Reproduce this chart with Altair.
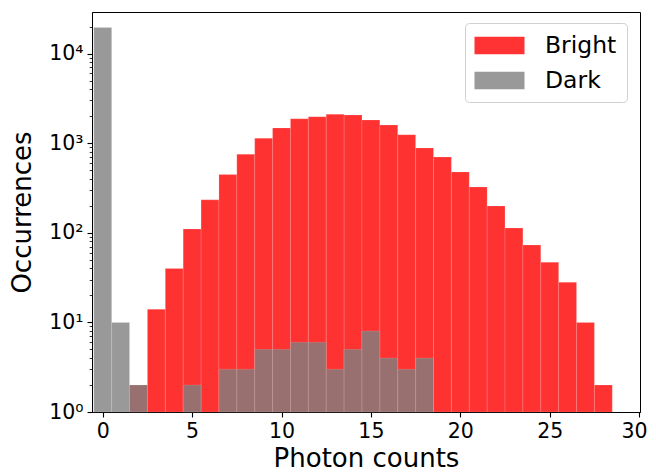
import altair as alt
import pandas as pd

# histogram bins (photon counts) and occurrences
bright_bins = [2, 3, 4, 5, 6, 7, 8, 9, 10, 11, 12, 13, 14, 15, 16, 17, 18, 19, 20,
               21, 22, 23, 24, 25, 26, 27, 28]
bright_counts = [2, 14, 40, 110, 233, 446, 752, 1135, 1478, 1876, 1976, 2100, 2062,
                 1815, 1596, 1244, 885, 701, 478, 325, 199, 113, 73, 47, 28, 10, 2]

dark_bins = [0, 1, 2, 5, 7, 8, 9, 10, 11, 12, 13, 14, 15, 16, 17, 18]
dark_counts = [19600, 10, 2, 2, 3, 3, 5, 5, 6, 6, 3, 5, 8, 4, 3, 4]

series_names = ["Bright", "Dark"]
series_colors = ["red", "gray"]

x_ticks = [0, 5, 10, 15, 20, 25, 30]
y_major = [1, 10, 100, 1000, 10000]
y_ticks = sorted(set(m * d for d in y_major for m in range(1, 10) if m * d <= 29000))

rows = []
for name, bins, counts in [("Bright", bright_bins, bright_counts),
                           ("Dark", dark_bins, dark_counts)]:
    for b, c in zip(bins, counts):
        rows.append({"series": name, "lo": b - 0.5, "hi": b + 0.5,
                     "count": c, "base": 1})
df = pd.DataFrame(rows)

major_test = "indexof([1,10,100,1000,10000], datum.value) >= 0"
label_expr = ("datum.value == 1 ? '10⁰' : datum.value == 10 ? '10¹' : "
              "datum.value == 100 ? '10²' : datum.value == 1000 ? '10³' : "
              "datum.value == 10000 ? '10⁴' : ''")

legend_path = "M-2,-0.7L2,-0.7L2,0.7L-2,0.7Z"

chart = alt.Chart(df).mark_rect(
    opacity=0.8, stroke="white", strokeWidth=0.5, strokeOpacity=0.3
).encode(
    x=alt.X("lo:Q",
            scale=alt.Scale(domain=[-0.6, 30.05], nice=False, zero=False),
            axis=alt.Axis(values=x_ticks, title="Photon counts", format="d",
                          tickSize=5, tickWidth=1.1, labelPadding=4,
                          labelFlush=False,
                          labelOffset={"condition": {"test": "datum.value == 30",
                                                     "value": -5},
                                       "value": 0},
                          titlePadding=4, grid=False)),
    x2="hi:Q",
    y=alt.Y("count:Q",
            scale=alt.Scale(type="log", domain=[1, 29100], nice=False),
            axis=alt.Axis(values=y_ticks, labelExpr=label_expr, title="Occurrences",
                          labelOverlap=False, labelFlush=False, grid=False,
                          tickSize={"condition": {"test": major_test, "value": 5},
                                    "value": 2.8},
                          tickWidth={"condition": {"test": major_test, "value": 1.1},
                                     "value": 0.8},
                          labelPadding=4, titlePadding=13)),
    y2="base:Q",
    color=alt.Color("series:N",
                    scale=alt.Scale(domain=series_names, range=series_colors),
                    legend=alt.Legend(title=None, orient="none", legendX=373,
                                      legendY=11, symbolType=legend_path,
                                      symbolSize=625, symbolStrokeWidth=0,
                                      symbolOffset=12, symbolOpacity=0.8,
                                      labelFontSize=23.5, labelOffset=33,
                                      rowPadding=11, padding=10,
                                      strokeColor="#d0d0d0", cornerRadius=4,
                                      fillColor="white")),
).properties(
    width=548, height=400,
    autosize=alt.AutoSizeParams(type="none"),
    padding={"left": 84, "top": 4, "right": 8, "bottom": 60},
).configure(
    font="DejaVu Sans",
).configure_axis(
    labelFont="DejaVu Sans", titleFont="DejaVu Sans",
    labelFontSize=20.5, titleFontSize=26, titleFontWeight="normal",
    labelColor="black", titleColor="black", domainColor="black",
    tickColor="black", domainWidth=1,
).configure_legend(
    labelFont="DejaVu Sans", labelColor="black",
).configure_view(
    stroke="black", strokeWidth=1,
)

chart.save("out.html", embed_options={"renderer": "svg", "actions": False})
